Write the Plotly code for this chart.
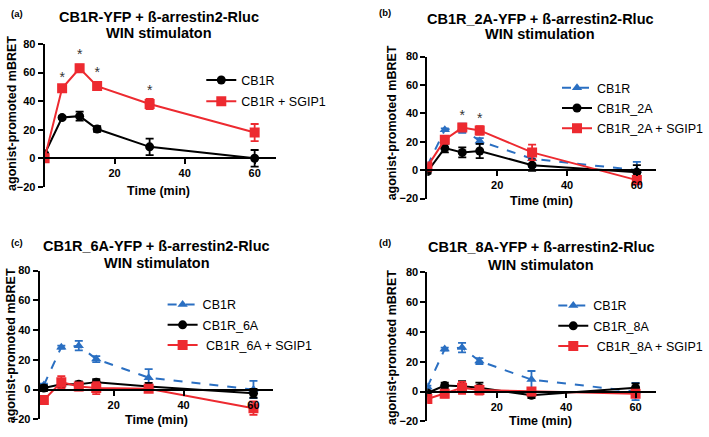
import plotly.graph_objects as go

W, H = 709, 437

# time points (min)
time = [0, 5, 10, 15, 30, 60]

# wild-type CB1R (same reference curve in every panel)
cb1r = [3, 28.5, 29.5, 20.5, 8, 0]
cb1r_err = [1, 1, 3.2, 2, 5.8, 5.8]

# panel (a)
a_sgip1 = [0, 49, 63, 50.5, 38, 18]
a_sgip1_err = [1, 1.5, 2.5, 1.5, 3.5, 6]

# panel (b)
b_2a = [-1, 15.5, 12.5, 13.5, 3.5, -1.5]
b_2a_err = [1.5, 3, 3.5, 5, 4, 5]
b_2a_sgip1 = [2.5, 21.5, 30, 28, 12.5, -7]
b_2a_sgip1_err = [1.5, 2, 2, 3, 5.5, 3]

# panel (c)
c_6a = [1, 3.5, 3.5, 5, 2, -2.5]
c_6a_err = [2, 2, 2, 2, 2.5, 3]
c_6a_sgip1 = [-7, 5, 2, 1, 0.5, -12.5]
c_6a_sgip1_err = [1, 4, 2.5, 4, 1.5, 4.5]

# panel (d)
d_8a = [-1, 4, 3.5, 2.5, -2.5, 2.5]
d_8a_err = [1.5, 2, 3.5, 3.5, 2, 3]
d_8a_sgip1 = [-5, -1.5, 2.5, 1, 0, -1.5]
d_8a_sgip1_err = [2.5, 2.5, 4, 3, 2.5, 2]

# significance markers
a_star_x = [5, 10, 15, 30]
a_star_y = [56, 72, 59.5, 47]
b_star_x = [10, 15]
b_star_y = [38, 36]

y_ticks = [-20, 0, 20, 40, 60, 80]
x_ticks = [20, 40, 60]

RED = '#ED2A30'
BLUE = '#2A6FC2'
FONT = 'Arial, Liberation Sans, sans-serif'

# panel boxes in pixels: x-left, x-right, y(80), y(-20), x-range
panels = [
    dict(x0=45, x1=278, ytop=39, ybot=186, xr=[0, 66]),
    dict(x0=431, x1=662, ytop=52, ybot=198, xr=[0, 65.6]),
    dict(x0=40, x1=275, ytop=272, ybot=425, xr=[-1.2, 65.5]),
    dict(x0=431, x1=662, ytop=274, ybot=427, xr=[0, 66]),
]

fig = go.Figure()


def series(n, y, err, name, color, symbol, size, dash='solid', legend='legend'):
    sfx = '' if n == 1 else str(n)
    fig.add_trace(go.Scatter(
        x=time, y=y, name=name, mode='lines+markers',
        xaxis='x' + sfx, yaxis='y' + sfx, legend=legend, legendgroup=legend + name,
        line=dict(color=color, width=2, dash=dash),
        marker=dict(color=color, symbol=symbol, size=size),
        error_y=dict(type='data', array=err, color=color, thickness=1.8, width=4),
    ))


# (a)
series(1, cb1r, cb1r_err, 'CB1R', 'black', 'circle', 9)
series(1, a_sgip1, a_sgip1_err, 'CB1R + SGIP1', RED, 'square', 10)
# (b)
series(2, cb1r, cb1r_err, 'CB1R', BLUE, 'triangle-up', 9, 'dash', 'legend2')
series(2, b_2a, b_2a_err, 'CB1R_2A', 'black', 'circle', 9, legend='legend2')
series(2, b_2a_sgip1, b_2a_sgip1_err, 'CB1R_2A + SGIP1', RED, 'square', 10, legend='legend2')
# (c)
series(3, cb1r, cb1r_err, 'CB1R', BLUE, 'triangle-up', 9, 'dash', 'legend3')
series(3, c_6a, c_6a_err, 'CB1R_6A', 'black', 'circle', 9, legend='legend3')
series(3, c_6a_sgip1, c_6a_sgip1_err, ' CB1R_6A + SGIP1', RED, 'square', 10, legend='legend3')
# (d)
series(4, cb1r, cb1r_err, 'CB1R', BLUE, 'triangle-up', 9, 'dash', 'legend4')
series(4, d_8a, d_8a_err, 'CB1R_8A', 'black', 'circle', 9, legend='legend4')
series(4, d_8a_sgip1, d_8a_sgip1_err, ' CB1R_8A + SGIP1', RED, 'square', 10, legend='legend4')

# asterisks
fig.add_trace(go.Scatter(x=a_star_x, y=a_star_y, mode='text', text=['*'] * len(a_star_x),
                         textfont=dict(size=14, color='#333', family=FONT),
                         xaxis='x', yaxis='y', showlegend=False, hoverinfo='skip'))
fig.add_trace(go.Scatter(x=b_star_x, y=b_star_y, mode='text', text=['*'] * len(b_star_x),
                         textfont=dict(size=14, color='#333', family=FONT),
                         xaxis='x2', yaxis='y2', showlegend=False, hoverinfo='skip'))

layout = dict(
    width=W, height=H, margin=dict(l=0, r=0, t=0, b=0),
    paper_bgcolor='white', plot_bgcolor='white',
    font=dict(family=FONT, color='black'),
)

axis_common = dict(showgrid=False, zeroline=False, showline=True, linecolor='black',
                   linewidth=2, ticks='outside', ticklen=5, tickwidth=2, tickcolor='black',
                   tickfont=dict(size=11, family=FONT, weight='bold'))

for i, p in enumerate(panels):
    n = i + 1
    sfx = '' if n == 1 else str(n)
    yd = [1 - p['ybot'] / H, 1 - p['ytop'] / H]
    xd = [p['x0'] / W, p['x1'] / W]
    zero_pos = yd[0] + (0 - (-20)) / 100 * (yd[1] - yd[0])
    layout['xaxis' + sfx] = dict(axis_common, domain=xd, range=p['xr'], tickvals=x_ticks,
                                 anchor='free', position=zero_pos)
    layout['yaxis' + sfx] = dict(axis_common, domain=yd, range=[-20, 80], tickvals=y_ticks,
                                 anchor='x' + sfx)

# legend: left edge of text, top, gap between entries
legend_pos = [(243, 61, 2), (602, 69, 1), (204, 292, 1), (598, 293, 1)]
for i, (lx, ly, gap) in enumerate(legend_pos):
    key = 'legend' if i == 0 else 'legend' + str(i + 1)
    layout[key] = dict(x=(lx - 40) / W, y=1 - ly / H, xanchor='left', yanchor='top',
                       bgcolor='rgba(0,0,0,0)', font=dict(size=12.5, family=FONT),
                       tracegroupgap=gap)

fig.update_layout(**layout)


def text(px, py, s, size, bold=True, angle=0):
    fig.add_annotation(x=px / W, y=1 - py / H, xref='paper', yref='paper', text=s,
                       showarrow=False, xanchor='center', yanchor='middle', textangle=angle,
                       font=dict(size=size, family=FONT, color='black',
                                 weight='bold' if bold else 'normal'))


titles = [
    ('(a)', 17, 8, 160, 11, 28, 'CB1R-YFP + ß-arrestin2-Rluc', 'WIN stimulaton', 12, 110, 160, 190),
    ('(b)', 388, 7, 545, 13, 29, 'CB1R_2A-YFP + ß-arrestin2-Rluc', 'WIN stimulation', 395, 120, 546, 201),
    ('(c)', 17, 243, 158, 247, 264, 'CB1R_6A-YFP + ß-arrestin2-Rluc', 'WIN stimulaton', 12, 349, 158, 426),
    ('(d)', 388, 243, 546, 248, 266, 'CB1R_8A-YFP + ß-arrestin2-Rluc', 'WIN stimulaton', 396, 351, 545, 427),
]
for lab, lx, ly, tx, ty1, ty2, t1, t2, yx, yy, xx, xy in titles:
    text(lx, ly, lab, 9.5)
    text(tx, ty1, t1, 14.5)
    text(tx, ty2, t2, 14.5)
    text(yx, yy, 'agonist-promoted mBRET', 12.5, angle=-90)
    text(xx, xy, 'Time (min)', 12.5)

# the page body has a default 8px margin; drop it so the figure sits at 0,0
fig.write_html('out.html', config={'displayModeBar': False},
               post_script="document.body.style.margin='0px';")
